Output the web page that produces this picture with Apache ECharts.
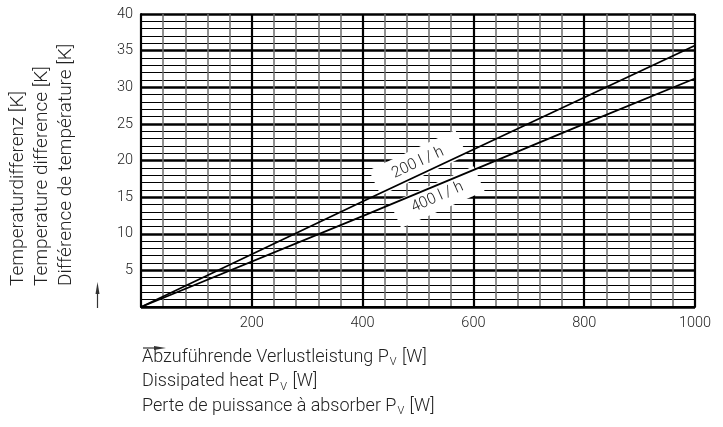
<!DOCTYPE html>
<html>
<head>
<meta charset="utf-8">
<script src="https://cdn.jsdelivr.net/npm/echarts@6/dist/echarts.min.js"></script>
<style>
html,body{margin:0;padding:0;background:#fff;}
#chart{width:723px;height:427px;}
</style>
</head>
<body>
<div id="chart"></div>
<script>
// Data
const powerW = [0, 400, 800, 1000];
const flow200 = [0, 14.4, 28.6, 35.7];
const flow400 = [0, 12.4, 25.0, 31.2];
const seriesNames = ['200 l / h', '400 l / h'];
const xTickLabels = [200, 400, 600, 800, 1000];
const yTickLabels = [5, 10, 15, 20, 25, 30, 35, 40];
const yTitles = ['Temperaturdifferenz [K]', 'Temperature difference [K]', 'Différence de température [K]'];
const xTitles = [['Abzuführende Verlustleistung P', 'V', ' [W]'], ['Dissipated heat P', 'V', ' [W]'], ['Perte de puissance à absorber P', 'V', ' [W]']];

const FONT = 'Roboto, "Liberation Sans", sans-serif';
const TXT = '#222';

const chart = echarts.init(document.getElementById('chart'));

function pairs(xs, ys) { return xs.map((x, i) => [x, ys[i]]); }

const yTitleGraphics = yTitles.map((t, i) => ({
  type: 'text', x: 18 + i * 24, y: 286, rotation: Math.PI / 2,
  style: { text: t, font: '300 19px ' + FONT, fill: TXT, textAlign: 'left', textVerticalAlign: 'middle' }
}));
const xTitleGraphics = xTitles.map((t, i) => ({
  type: 'text', x: 142, y: 357 + i * 24.5,
  style: {
    text: '{a|' + t[0] + '}{s|' + t[1] + '}{a|' + t[2] + '}',
    textVerticalAlign: 'middle',
    rich: {
      a: { font: '300 18px ' + FONT, fill: TXT },
      s: { font: '300 11px ' + FONT, fill: TXT, padding: [11, 1, 0, 1] }
    }
  }
}));

const option = {
  animation: false,
  backgroundColor: '#fff',
  grid: { left: 141, right: 28, top: 14, bottom: 120 },
  xAxis: {
    type: 'value', min: 0, max: 1000, interval: 200,
    axisLine: { show: true, lineStyle: { color: '#000', width: 2 } },
    axisTick: { show: false },
    axisLabel: {
      margin: 9, color: TXT, fontSize: 14.5, fontFamily: FONT, fontWeight: 300,
      formatter: v => xTickLabels.indexOf(v) >= 0 ? String(v) : ''
    },
    splitLine: { show: true, lineStyle: { color: '#000', width: 2.2 } },
    minorTick: { show: false, splitNumber: 5 },
    minorSplitLine: { show: true, lineStyle: { color: '#6e6e6e', width: 1.5 } }
  },
  yAxis: {
    type: 'value', min: 0, max: 40, interval: 5,
    axisLine: { show: true, lineStyle: { color: '#000', width: 2 } },
    axisTick: { show: false },
    axisLabel: {
      margin: 8, color: TXT, fontSize: 14.5, fontFamily: FONT, fontWeight: 300,
      formatter: v => yTickLabels.indexOf(v) >= 0 ? String(v) : ''
    },
    splitLine: { show: true, lineStyle: { color: '#000', width: 2.6 } },
    minorTick: { show: false, splitNumber: 5 },
    minorSplitLine: { show: true, lineStyle: { color: '#000', width: 1.1 } }
  },
  series: [
    {
      name: seriesNames[0], type: 'line', symbol: 'none', z: 10,
      data: pairs(powerW, flow200),
      lineStyle: { color: '#000', width: 1.8 },
      markPoint: {
        z: 3,
        symbol: 'rect', symbolSize: 0, silent: true,
        data: [{ coord: [500, 19.7] }],
        label: {
          show: true, position: 'inside', formatter: seriesNames[0], rotate: 25,
          color: TXT, fontSize: 15.5, fontFamily: FONT, fontWeight: 300,
          backgroundColor: '#fff', padding: [6, 20, 6, 20]
        }
      }
    },
    {
      name: seriesNames[1], type: 'line', symbol: 'none', z: 10,
      data: pairs(powerW, flow400),
      lineStyle: { color: '#000', width: 1.8 },
      markPoint: {
        z: 3,
        symbol: 'rect', symbolSize: 0, silent: true,
        data: [{ coord: [535, 15.0] }],
        label: {
          show: true, position: 'inside', formatter: seriesNames[1], rotate: 24,
          color: TXT, fontSize: 15.5, fontFamily: FONT, fontWeight: 300,
          backgroundColor: '#fff', padding: [6, 18, 5, 18]
        }
      }
    }
  ],
  graphic: [
    ...yTitleGraphics,
    ...xTitleGraphics,
    { type: 'line', shape: { x1: 97.5, y1: 308, x2: 97.5, y2: 290 }, style: { stroke: '#333', lineWidth: 1.2 } },
    { type: 'polygon', shape: { points: [[95.5, 294], [97.5, 282], [99.5, 294]] }, style: { fill: '#333' } },
    { type: 'line', shape: { x1: 143, y1: 348, x2: 158, y2: 348 }, style: { stroke: '#333', lineWidth: 1.2 } },
    { type: 'polygon', shape: { points: [[154, 346], [166, 348], [154, 350]] }, style: { fill: '#333' } }
  ]
};
chart.setOption(option);
</script>
</body>
</html>
